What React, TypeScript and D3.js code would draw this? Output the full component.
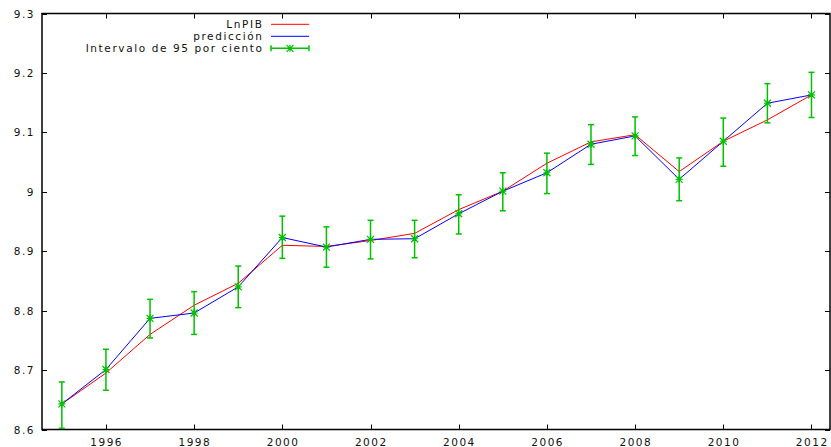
import React, { useEffect, useRef } from 'react';
import * as d3 from 'd3';

const years = [1995, 1996, 1997, 1998, 1999, 2000, 2001, 2002, 2003, 2004, 2005, 2006, 2007, 2008, 2009, 2010, 2011, 2012];
const lnPIB = [8.643, 8.695, 8.760, 8.809, 8.846, 8.910, 8.908, 8.918, 8.930, 8.970, 9.001, 9.048, 9.084, 9.096, 9.034, 9.085, 9.121, 9.163];
const prediccion = [8.643, 8.701, 8.787, 8.796, 8.840, 8.923, 8.907, 8.920, 8.921, 8.963, 9.001, 9.032, 9.080, 9.094, 9.021, 9.085, 9.149, 9.163];
const lower = [8.602, 8.666, 8.754, 8.760, 8.805, 8.888, 8.873, 8.887, 8.889, 8.929, 8.968, 8.997, 9.046, 9.061, 8.985, 9.043, 9.116, 9.125];
const upper = [8.680, 8.735, 8.819, 8.832, 8.875, 8.959, 8.941, 8.952, 8.952, 8.995, 9.032, 9.065, 9.113, 9.126, 9.057, 9.124, 9.182, 9.201];
const xTicks = [1996, 1998, 2000, 2002, 2004, 2006, 2008, 2010, 2012];
const yTicks = [8.6, 8.7, 8.8, 8.9, 9, 9.1, 9.2, 9.3];
const legendLabels = ['LnPIB', 'predicción', 'Intervalo de 95 por ciento'];

const W = 831;
const H = 447;
const GREEN = '#00c000';
const FONT = 'DejaVu Sans';

function App() {
  const ref = useRef<SVGSVGElement>(null);

  useEffect(() => {
    const svg = d3.select(ref.current);
    svg.selectAll('*').remove();

    const left = 42, right = 830, top = 13.5, bottom = 429.5;
    const x = d3.scaleLinear().domain([1994.55, 2012.42]).range([left, right]);
    const y = d3.scaleLinear().domain([8.6, 9.3]).range([bottom, top]);

    svg.append('rect').attr('width', W).attr('height', H).attr('fill', 'white');

    // ticks (inward, mirrored)
    const tk = svg.append('g').attr('stroke', 'black').attr('stroke-width', 1);
    xTicks.forEach(t => {
      const px = Math.round(x(t)) + 0.5;
      tk.append('line').attr('x1', px).attr('x2', px).attr('y1', bottom).attr('y2', bottom - 5);
      tk.append('line').attr('x1', px).attr('x2', px).attr('y1', top).attr('y2', top + 5);
    });
    yTicks.forEach(t => {
      const py = Math.round(y(t)) + 0.5;
      tk.append('line').attr('x1', left).attr('x2', left + 5).attr('y1', py).attr('y2', py);
      tk.append('line').attr('x1', right).attr('x2', right - 5).attr('y1', py).attr('y2', py);
    });

    const lbl = svg.append('g').attr('font-family', FONT).attr('font-size', 10.5)
      .attr('letter-spacing', 1.5).attr('fill', '#111');
    xTicks.forEach(t => {
      lbl.append('text').attr('x', x(t) + 0.75).attr('y', 446).attr('text-anchor', 'middle').text(String(t));
    });
    yTicks.forEach(t => {
      lbl.append('text').attr('x', 35).attr('y', y(t) + 4).attr('text-anchor', 'end').text(String(t));
    });

    // border
    svg.append('rect').attr('x', left).attr('y', top).attr('width', right - left).attr('height', bottom - top)
      .attr('fill', 'none').attr('stroke', 'black').attr('stroke-width', 1.5);

    const line = d3.line<number>().x((_, i) => x(years[i])).y(d => y(d));

    svg.append('path').attr('d', line(lnPIB)).attr('fill', 'none').attr('stroke', '#ff0000').attr('stroke-width', 1);
    svg.append('path').attr('d', line(prediccion)).attr('fill', 'none').attr('stroke', '#0000ff').attr('stroke-width', 1);

    const star = (g: any, cx: number, cy: number) => {
      const s = 3.5;
      g.append('path')
        .attr('d', `M${cx - s},${cy}H${cx + s}M${cx},${cy - s}V${cy + s}M${cx - s},${cy - s}L${cx + s},${cy + s}M${cx - s},${cy + s}L${cx + s},${cy - s}`)
        .attr('stroke', GREEN).attr('stroke-width', 1.2).attr('fill', 'none');
    };

    const eb = svg.append('g').attr('stroke', GREEN).attr('stroke-width', 1.5);
    years.forEach((yr, i) => {
      const px = x(yr);
      eb.append('line').attr('x1', px).attr('x2', px).attr('y1', y(lower[i])).attr('y2', y(upper[i]));
      eb.append('line').attr('x1', px - 3).attr('x2', px + 3).attr('y1', y(lower[i])).attr('y2', y(lower[i]));
      eb.append('line').attr('x1', px - 3).attr('x2', px + 3).attr('y1', y(upper[i])).attr('y2', y(upper[i]));
      star(eb, px, y(prediccion[i]));
    });

    // legend
    const lg = svg.append('g').attr('font-family', FONT).attr('font-size', 10.5).attr('letter-spacing', 1.6);
    const ly = [24.3, 36.3, 48.3];
    legendLabels.forEach((l, i) => {
      lg.append('text').attr('x', 263.5).attr('y', ly[i] + 4).attr('text-anchor', 'end').attr('fill', '#111').text(l);
    });
    lg.append('line').attr('x1', 271).attr('x2', 309).attr('y1', ly[0]).attr('y2', ly[0]).attr('stroke', '#ff0000');
    lg.append('line').attr('x1', 271).attr('x2', 309).attr('y1', ly[1]).attr('y2', ly[1]).attr('stroke', '#0000ff');
    const lg3 = lg.append('g').attr('stroke', GREEN).attr('stroke-width', 1.5);
    lg3.append('line').attr('x1', 271).attr('x2', 309).attr('y1', ly[2]).attr('y2', ly[2]);
    lg3.append('line').attr('x1', 271).attr('x2', 271).attr('y1', ly[2] - 3).attr('y2', ly[2] + 3);
    lg3.append('line').attr('x1', 309).attr('x2', 309).attr('y1', ly[2] - 3).attr('y2', ly[2] + 3);
    star(lg3, 290, ly[2]);
  }, []);

  return (
    <svg ref={ref} width={W} height={H} style={{ position: 'absolute', left: 0, top: 0, display: 'block' }} />
  );
}

export default App;
